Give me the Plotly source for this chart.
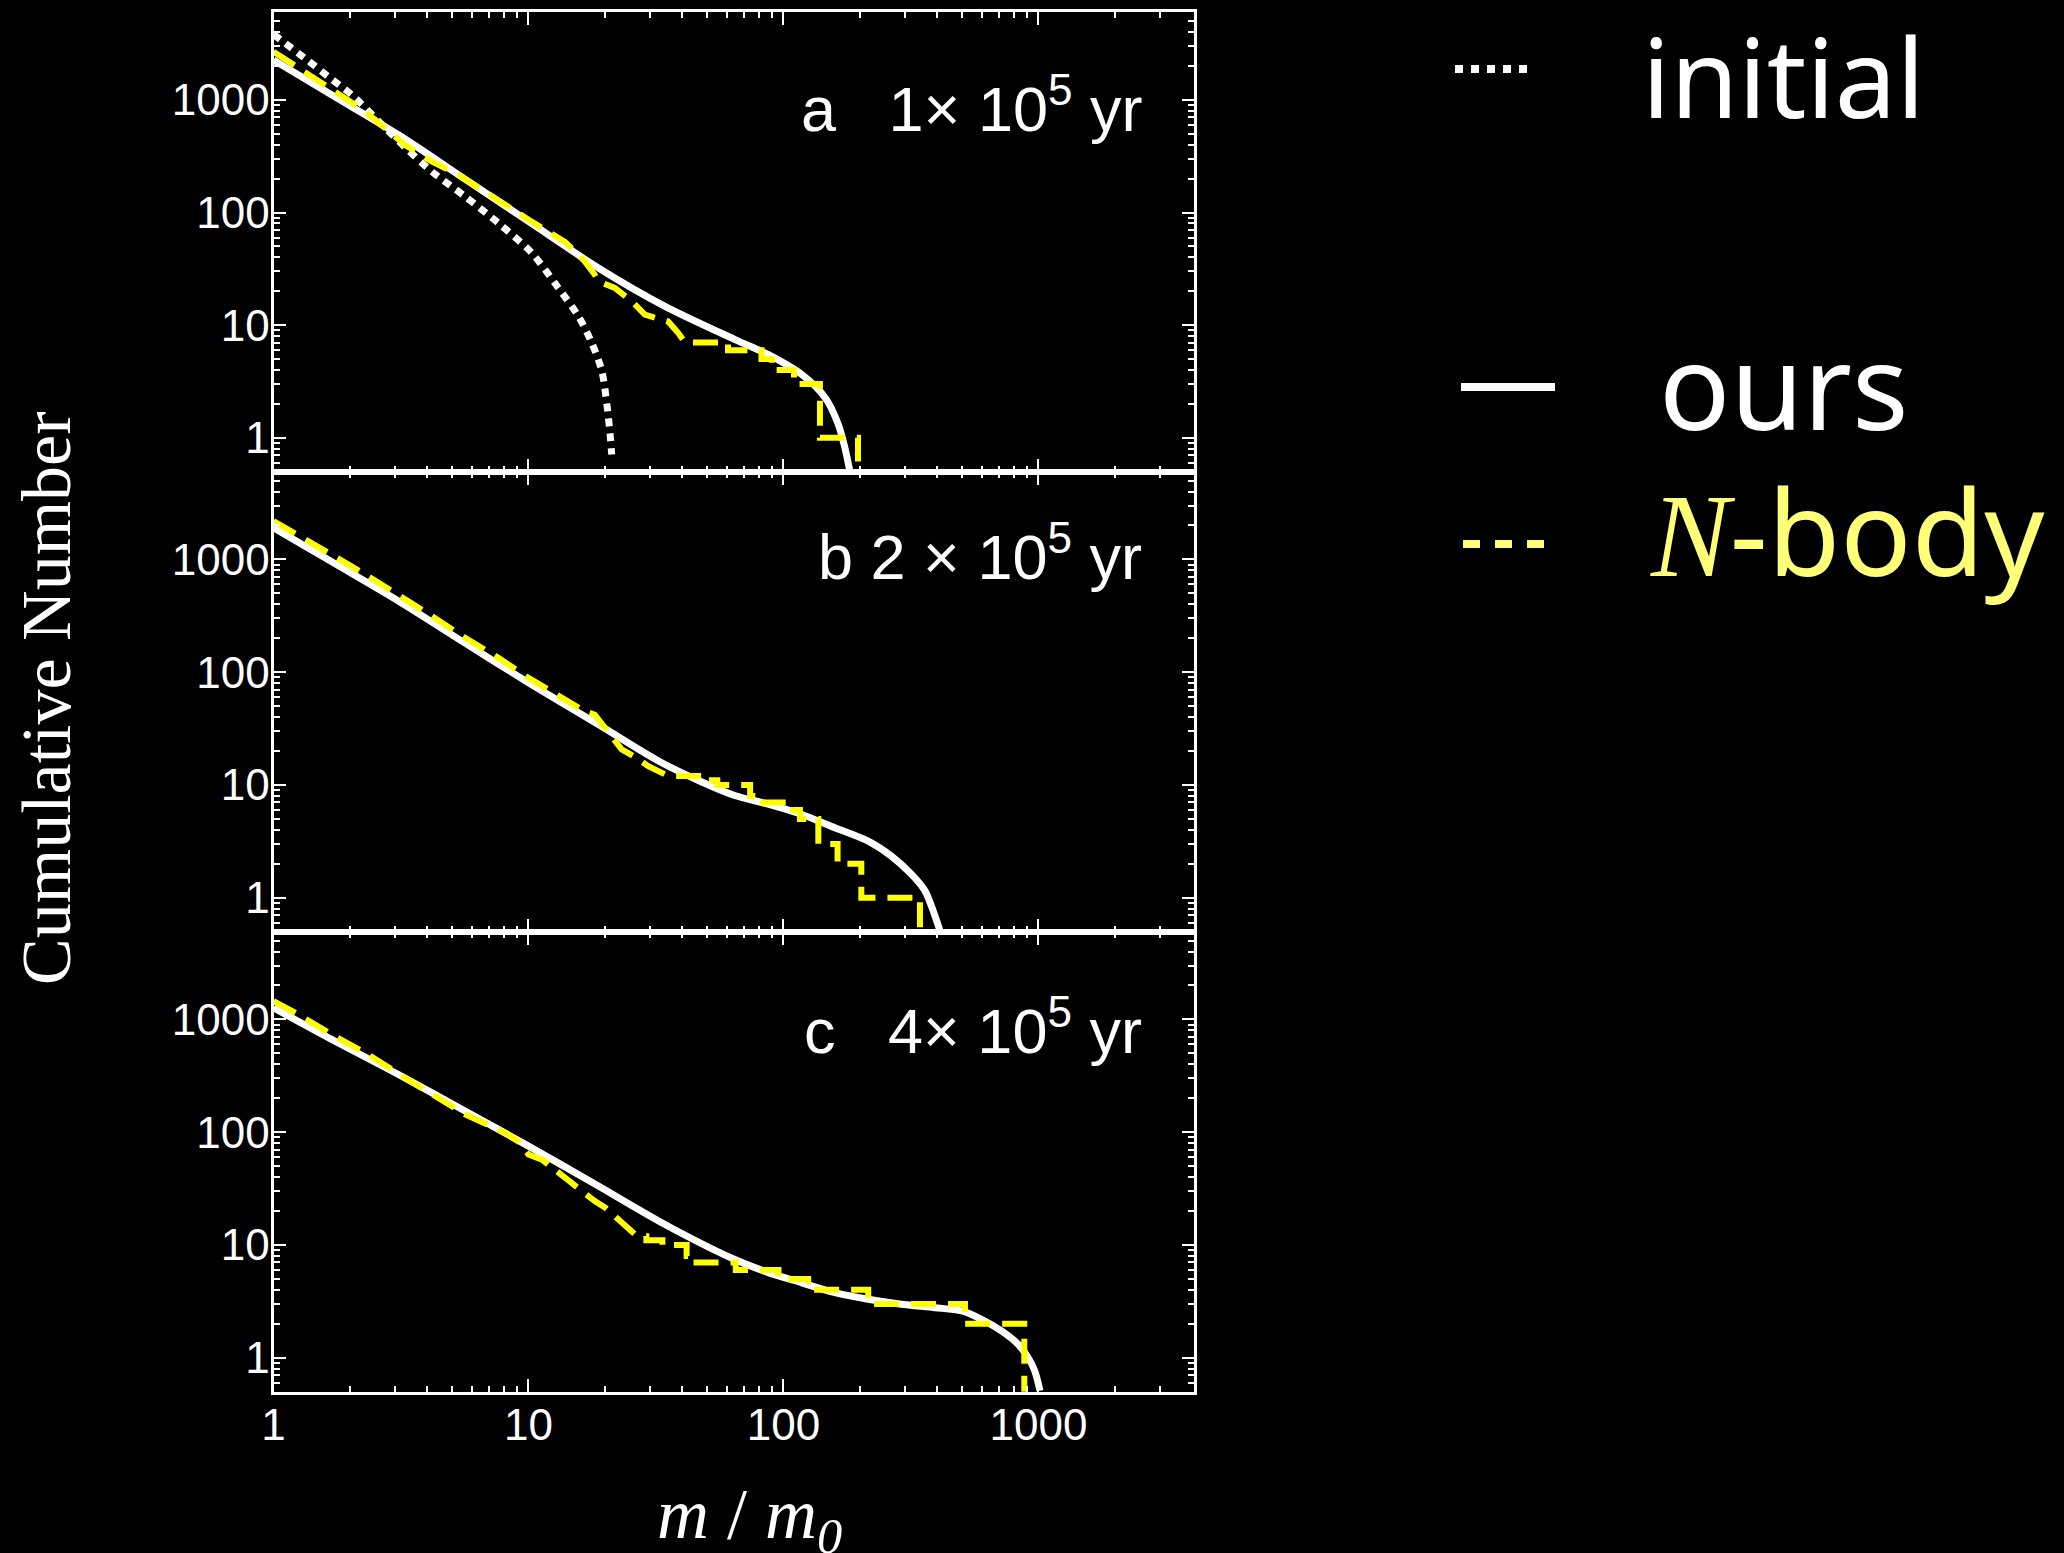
import plotly.graph_objects as go

# ---------------- data ----------------
# panel a : 1x10^5 yr
a_init_m = [1, 1.33, 1.64, 2.03, 2.75, 3.31, 4.17, 5.64, 7.62, 10.3, 13.1, 15.7, 17.7, 19.4, 20.3, 20.9, 21.2]
a_init_n = [3820, 2340, 1610, 1107, 561, 373, 232, 139, 80.7, 43.8, 21.4, 12.0, 6.97, 3.91, 1.98, 1.07, 0.71]

a_ours_m = [1, 1.78, 3.09, 5.62, 10, 18.8, 34.3, 64.6, 87.3, 118, 146, 164, 174, 182]
a_ours_n = [2265, 1035, 490, 199, 83.4, 32.2, 14.7, 7.45, 5.48, 3.65, 2.26, 1.32, 0.82, 0.51]

a_nb_m = [1, 1.29, 1.64, 2.29, 3.28, 4.17, 5.31, 7.62, 10.3, 13.9, 16.6, 18.2, 18.8, 21.8, 25.4,
          28.6, 32.3, 35.3, 38.7, 41.1, 60.6, 60.6, 82, 82, 90, 90, 110, 110, 139, 139, 196, 196]
a_nb_n = [2680, 1845, 1313, 789, 398, 284, 216, 126, 83, 55, 37, 28, 24.5, 21.4, 16.3,
          12.4, 11.6, 10.8, 8.5, 7, 7, 6, 6, 5, 5, 4, 4, 3, 3, 1, 1, 0.3]

# panel b : 2x10^5 yr
b_ours_m = [1, 1.78, 3.09, 5.62, 10, 18.8, 34.3, 63.1, 87.1, 118, 159, 215, 265, 318, 359, 387, 411]
b_ours_n = [1910, 891, 427, 182, 80.7, 34.4, 15.2, 8.2, 6.76, 5.48, 4.18, 3.18, 2.34, 1.61, 1.15, 0.76, 0.51]

b_nb_m = [1, 1.25, 1.64, 2.29, 3.09, 4.17, 5.64, 7.62, 10, 13.9, 16.6, 18.2, 20, 23.2, 26.2, 29.5,
          35.4, 49.5, 49.5, 55, 55, 74, 74, 83, 83, 109, 109, 116, 116, 137, 137, 163, 163, 202, 202, 343, 343]
b_nb_n = [2190, 1611, 1146, 736, 473, 315, 202, 134, 89, 57, 45, 42, 32, 20.7, 17.7, 14.7,
          12, 12, 11, 11, 10, 10, 8, 8, 7, 7, 6, 6, 5, 5, 3, 3, 2, 2, 1, 1, 0.3]

# panel c : 4x10^5 yr
c_ours_m = [1, 1.69, 3.09, 5.64, 10, 18.8, 34.3, 63.1, 86.1, 118, 159, 215, 290, 393, 500, 598, 716, 834, 912, 968, 1014]
c_ours_n = [1268, 665, 325, 154, 75.3, 33.3, 15.2, 7.59, 5.75, 4.62, 3.78, 3.30, 2.98, 2.78, 2.60, 2.19, 1.73, 1.31, 1.0, 0.76, 0.51]

c_nb_m = [1, 1.25, 1.69, 2.29, 3.28, 4.17, 5.64, 8.09, 9.12, 10, 11.3, 13.9, 16.1, 18.2, 20, 23.9, 26.2,
          29, 29, 33.5, 33.5, 41.7, 41.7, 44.3, 44.3, 65, 65, 95.6, 95.6, 125, 125, 215, 215, 515, 515, 880, 880]
c_nb_n = [1455, 1107, 736, 506, 304, 216, 144, 99, 83, 63.5, 57, 39.5, 30, 24.5, 21.4, 14.7, 12.4,
          12, 11, 11, 10, 10, 8, 8, 7, 7, 6, 6, 5, 5, 4, 4, 3, 3, 2, 2, 0.3]

panel_labels = ["a\u00a0\u00a0\u00a01×\u00a010<sup>5</sup>\u00a0yr",
                "b\u00a02\u00a0×\u00a010<sup>5</sup>\u00a0yr",
                "c\u00a0\u00a0\u00a04×\u00a010<sup>5</sup>\u00a0yr"]

x_tickvals = [1, 10, 100, 1000]
x_ticktext = ["1", "10", "100", "1000"]
y_tickvals = [1, 10, 100, 1000]
y_ticktext = ["1", "10", "100", "1000"]

# ---------------- layout geometry ----------------
W, H = 2064, 1553
X0, X1 = 273.5, 1194.0
panels_px = [(12.3, 471.7), (471.7, 931.7), (931.7, 1391.7)]

x_minor = [k * 10 ** e for e in range(0, 4) for k in range(2, 10) if k * 10 ** e < 4000]
y_minor = [0.6, 0.7, 0.8, 0.9] + [k * 10 ** e for e in range(0, 4) for k in range(2, 10) if k * 10 ** e < 6000]

WHITE = "#ffffff"
YEL = "#ffff00"
PALE = "#ffff78"
TICKFONT = dict(family="Liberation Sans, Arial, sans-serif", size=44, color=WHITE)

fig = go.Figure()

series = [
    (a_ours_m, a_ours_n, a_nb_m, a_nb_n),
    (b_ours_m, b_ours_n, b_nb_m, b_nb_n),
    (c_ours_m, c_ours_n, c_nb_m, c_nb_n),
]

for i, (om, on, nm, nn) in enumerate(series):
    sfx = "" if i == 0 else str(i + 1)
    xa, ya = "x" + sfx, "y" + sfx
    if i == 0:
        fig.add_trace(go.Scatter(x=a_init_m, y=a_init_n, xaxis=xa, yaxis=ya, mode="lines",
                                 line=dict(color=WHITE, width=7, dash="8px,7px", shape="spline", smoothing=0.8),
                                 showlegend=False, hoverinfo="skip"))
    fig.add_trace(go.Scatter(x=om, y=on, xaxis=xa, yaxis=ya, mode="lines",
                             line=dict(color=WHITE, width=7, shape="spline", smoothing=0.8),
                             showlegend=False, hoverinfo="skip"))
    fig.add_trace(go.Scatter(x=nm, y=nn, xaxis=xa, yaxis=ya, mode="lines",
                             line=dict(color=YEL, width=6, dash="25px,12px"),
                             showlegend=False, hoverinfo="skip"))

layout = dict(
    width=W, height=H,
    paper_bgcolor="black", plot_bgcolor="black",
    margin=dict(l=0, r=0, t=0, b=0, pad=0, autoexpand=False),
    showlegend=False,
)

for i, (top, bot) in enumerate(panels_px):
    sfx = "" if i == 0 else str(i + 1)
    ydom = [1 - bot / H, 1 - top / H]
    xkey = "xaxis" + sfx
    ykey = "yaxis" + sfx
    layout[xkey] = dict(
        type="log", range=[0, 3.61], domain=[X0 / W, X1 / W], anchor="y" + sfx,
        automargin=False,
        showgrid=False, zeroline=False, showline=True, linecolor=WHITE, linewidth=3,
        mirror="allticks", ticks="inside", ticklen=13, tickwidth=2, tickcolor=WHITE,
        tickmode="array", tickvals=x_tickvals, ticktext=x_ticktext,
        showticklabels=(i == 2), tickfont=TICKFONT, ticklabelstandoff=-8,
        minor=dict(tickmode="array", tickvals=x_minor, ticks="inside", ticklen=6,
                   tickwidth=2, tickcolor=WHITE, showgrid=False),
    )
    layout[ykey] = dict(
        type="log", range=[-0.301, 3.778], domain=ydom, anchor="x" + sfx,
        automargin=False,
        showgrid=False, zeroline=False, showline=True, linecolor=WHITE, linewidth=3,
        mirror="allticks", ticks="inside", ticklen=12, tickwidth=2, tickcolor=WHITE,
        tickmode="array", tickvals=y_tickvals, ticktext=y_ticktext,
        tickfont=TICKFONT, ticklabelstandoff=-8,
        minor=dict(tickmode="array", tickvals=y_minor, ticks="inside", ticklen=6,
                   tickwidth=2, tickcolor=WHITE, showgrid=False),
    )

fig.update_layout(**layout)

# ---------------- texts ----------------
ann = []
label_mid_px = [104, 553, 1026]
for txt, ym in zip(panel_labels, label_mid_px):
    ann.append(dict(text=txt, xref="paper", yref="paper", x=1144 / W, y=1 - ym / H,
                    xanchor="right", yanchor="middle", showarrow=False,
                    font=dict(family="Liberation Sans, Arial, sans-serif", size=63, color=WHITE)))

ann.append(dict(text="Cumulative Number", xref="paper", yref="paper", x=46 / W, y=1 - 698 / H,
                xanchor="center", yanchor="middle", textangle=-90, showarrow=False,
                font=dict(family="Liberation Serif, Times New Roman, serif", size=70, color=WHITE)))
ann.append(dict(text="<i>m</i> / <i>m</i><sub><i>0</i></sub>", xref="paper", yref="paper",
                x=749 / W, y=1 - 1519 / H, xanchor="center", yanchor="middle", showarrow=False,
                font=dict(family="Liberation Serif, Times New Roman, serif", size=72, color=WHITE)))

LEGFONT = "Noto Sans, Open Sans, sans-serif"
ann.append(dict(text="initial", xref="paper", yref="paper", x=1640 / W, y=1 - 75 / H,
                xanchor="left", yanchor="middle", showarrow=False,
                font=dict(family=LEGFONT, size=110, color=WHITE)))
ann.append(dict(text="ours", xref="paper", yref="paper", x=1657 / W, y=1 - 384 / H,
                xanchor="left", yanchor="middle", showarrow=False,
                font=dict(family=LEGFONT, size=118, color=WHITE)))
ann.append(dict(text="<span style='font-family:Liberation Serif, serif'><i>N</i></span>-body",
                xref="paper", yref="paper", x=1648 / W, y=1 - 530 / H,
                xanchor="left", yanchor="middle", showarrow=False,
                font=dict(family=LEGFONT, size=118, color=PALE)))
fig.update_layout(annotations=ann)

# legend keys
shapes = [
    dict(type="line", xref="paper", yref="paper", x0=1455 / W, x1=1530 / W, y0=1 - 69 / H, y1=1 - 69 / H,
         line=dict(color=WHITE, width=8, dash="8px,8px")),
    dict(type="line", xref="paper", yref="paper", x0=1461 / W, x1=1555 / W, y0=1 - 387 / H, y1=1 - 387 / H,
         line=dict(color=WHITE, width=8)),
    dict(type="line", xref="paper", yref="paper", x0=1463 / W, x1=1545 / W, y0=1 - 544 / H, y1=1 - 544 / H,
         line=dict(color=PALE, width=8, dash="17px,15px")),
]
fig.update_layout(shapes=shapes)

post = ("document.body.style.margin='0';document.body.style.padding='0';"
        "document.body.style.background='black';document.body.style.overflow='hidden';"
        "document.documentElement.style.background='black';")
fig.write_html("out.html", post_script=post, config={"displayModeBar": False})
